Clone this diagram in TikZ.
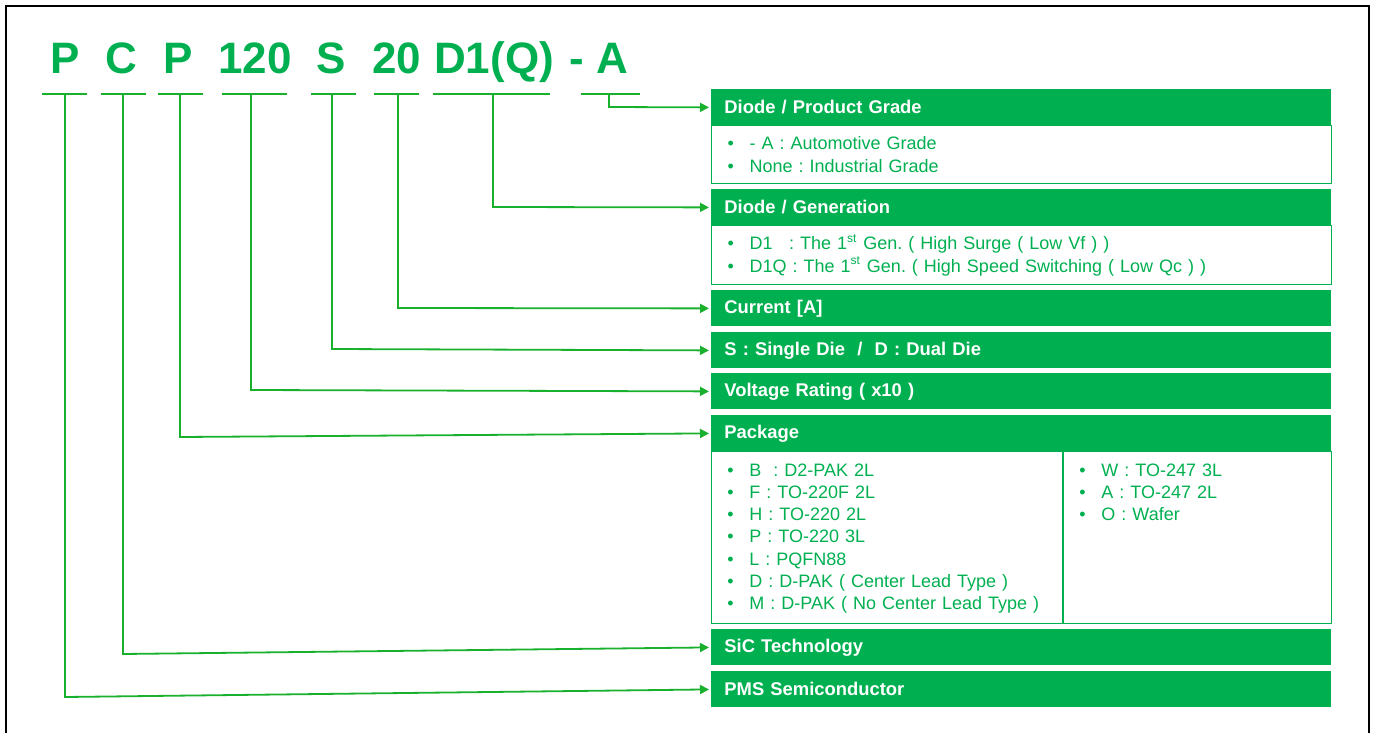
\documentclass[tikz,border=0pt]{standalone}
\usepackage{fontspec}
\setmainfont{Liberation Sans}
\usetikzlibrary{arrows.meta}
\frenchspacing
\definecolor{pmsgreen}{HTML}{00B050}
\definecolor{wiregreen}{HTML}{18B02C}
\tikzset{
  hdr/.style={anchor=north west, fill=pmsgreen, text=white,
    font=\bfseries\fontsize{9.2}{11}\selectfont, text width=297pt,
    inner xsep=6.5pt, inner ysep=0pt, minimum height=18pt, align=left},
  body/.style={anchor=north west, draw=pmsgreen, line width=0.6pt, text=pmsgreen,
    font=\fontsize{9}{11.1}\selectfont, text width=294pt, inner xsep=8pt, align=left},
  column/.style={anchor=north west, text=pmsgreen, font=\fontsize{9}{11.1}\selectfont,
    text width=160pt, inner xsep=8pt, inner ysep=6.2pt, align=left},
  code/.style={anchor=base, text=pmsgreen, font=\bfseries\fontsize{22}{26}\selectfont, inner sep=0pt},
  wire/.style={draw=wiregreen, line width=0.9pt},
}
\newcommand{\itm}[1]{\makebox[11pt][l]{\textbullet}#1}

\begin{document}
\begin{tikzpicture}[x=0.5pt,y=-0.5pt,>={Triangle[length=4.5pt,width=4.5pt]}]
    \useasboundingbox (0,0) rectangle (1376,733);
    \draw[line width=1pt] (6,733) -- (6,6) -- (1369,6) -- (1369,733);
    % --- part number
    \node[code] (cP1) at (65,74) {P};
    \node[code] (cC) at (121.5,74) {C};
    \node[code] (cP2) at (178.5,74) {P};
    \node[code] (cV) at (255,74) {120};
    \node[code] (cS) at (331,74) {S};
    \node[code] (cI) at (397,74) {20};
    \node[code] (cD) at (494,74) {D1(Q)};
    \node[code] (cA) at (598.5,74) {- A};
    % --- right column
    \node[hdr] (grade) at (711,89) {Diode / Product Grade};
    \node[body, minimum height=29pt] (gradetxt) at (711,125)
      {\itm{- A : Automotive Grade}\\ \itm{None : Industrial Grade}};
    \node[hdr] (gen) at (711,189) {Diode / Generation};
    \node[body, minimum height=29.5pt] (gentxt) at (711,225)
      {\itm{D1\hspace*{8.2pt}: The 1\textsuperscript{st} Gen. ( High Surge ( Low Vf ) )}\\
       \itm{D1Q : The 1\textsuperscript{st} Gen. ( High Speed Switching ( Low Qc ) )}};
    \node[hdr] (curr) at (711,290) {Current [A]};
    \node[hdr] (die) at (711,332) {S : Single Die\ \ /\ \ D : Dual Die};
    \node[hdr] (volt) at (711,373) {Voltage Rating ( x10 )};
    \node[hdr] (pkg) at (711,415) {Package};
    \node[body, minimum height=86pt] (pkgtxt) at (711,451) {};
    \draw[draw=pmsgreen, line width=0.6pt] (1063,451) -- (1063,623);
    \node[column] (pkgleft) at (711,451)
      {\itm{B\ \ : D2-PAK 2L}\\ \itm{F : TO-220F 2L}\\ \itm{H : TO-220 2L}\\
       \itm{P : TO-220 3L}\\ \itm{L : PQFN88}\\ \itm{D : D-PAK ( Center Lead Type )}\\
       \itm{M : D-PAK ( No Center Lead Type )}};
    \node[column] (pkgright) at (1063,451)
      {\itm{W : TO-247 3L}\\ \itm{A : TO-247 2L}\\ \itm{O : Wafer}};
    \node[hdr] (sic) at (711,629) {SiC Technology};
    \node[hdr] (pms) at (711,671) {PMS Semiconductor};
    % --- underlines and leaders
    \foreach \xl/\xr/\xm/\yk/\tgt in {42/87/65/697/pms, 101/146/123/654/sic,
        158/203/180/437/pkg, 222/287/251/390/volt, 311/356/332/349/die,
        374/419/398/308/curr, 433/550/493/207/gen, 581/640/609/107/grade}{
      \coordinate (ul-\tgt) at (\xl,94);
      \coordinate (ur-\tgt) at (\xr,94);
      \coordinate (um-\tgt) at (\xm,94);
      \coordinate (uk-\tgt) at (\xm,\yk);
      \draw[wire] (ul-\tgt) -- (ur-\tgt);
      \draw[wire,->,shorten >=1pt] (um-\tgt) -- (uk-\tgt) -- (\tgt.west);
    }
\end{tikzpicture}
\end{document}
